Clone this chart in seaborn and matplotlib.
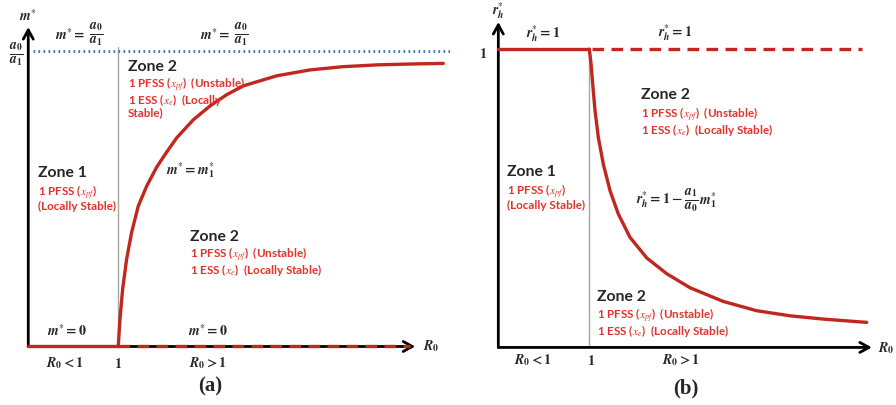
import matplotlib
matplotlib.use("Agg")
import matplotlib.pyplot as plt
import seaborn as sns

# =========================
# DATA
# =========================

# panel (a): m* in units of a0/a1 against R0, branch for R0 > 1
r0_a = [1.0, 1.019, 1.049, 1.093, 1.149, 1.222, 1.316, 1.427, 1.538, 1.649,
        1.833, 2.019, 2.204, 2.389, 2.760, 3.130, 3.500, 3.871, 4.241, 4.611]
m_a = [0.0, 0.093, 0.195, 0.296, 0.387, 0.475, 0.543, 0.607, 0.658, 0.706,
       0.767, 0.814, 0.852, 0.882, 0.916, 0.936, 0.947, 0.953, 0.956, 0.958]

# panel (b): r_h* against R0, branch for R0 > 1
r0_b = [1.0, 1.019, 1.037, 1.063, 1.099, 1.154, 1.228, 1.319, 1.447, 1.631,
        1.851, 2.107, 2.473, 2.840, 3.205, 3.571, 4.048]
rh_b = [1.0, 0.950, 0.883, 0.793, 0.704, 0.614, 0.525, 0.447, 0.369, 0.300,
        0.247, 0.200, 0.154, 0.123, 0.106, 0.095, 0.084]

# trivial branches
r0_low = [0.0, 1.0]
r0_high_a = [1.0, 4.24]
r0_high_b = [1.03, 4.0]

CURVE = "#c0271e"
TXT_RED = "#e5322d"
BLUE = "#2e75b6"
GREY = "#a6a6a6"

sns.set_theme(style="white")
plt.rcParams["mathtext.fontset"] = "stix"
plt.rcParams["font.family"] = ["Lato", "DejaVu Sans"]

W, H = 896, 406
fig = plt.figure(figsize=(W / 100, H / 100), dpi=100)

ax_a = fig.add_axes([0, 0, 450 / W, 1])
ax_b = fig.add_axes([450 / W, 0, 446 / W, 1])

ax_a.set_xlim(-0.314, 4.686)
ax_a.set_ylim(-0.198, 1.176)
ax_b.set_xlim(-0.531, 4.370)
ax_b.set_ylim(-0.193, 1.168)

for ax in (ax_a, ax_b):
    ax.axis("off")


def put(x, y, s, **kw):
    # place text by pixel position in the figure
    kw.setdefault("va", "center")
    fig.text(x / W, 1 - y / H, s, **kw)


def frac(x, y, num, den):
    # fraction drawn bigger so numerator/denominator are full size
    put(x, y, r"$\frac{%s}{%s}$" % (num, den), ha="center", fontsize=14)


def arrows(ax, xend, yend):
    arw = dict(arrowstyle="->,head_length=0.55,head_width=0.3", lw=2.0,
               color="black", shrinkA=0, shrinkB=0)
    ax.annotate("", xy=(xend, 0), xytext=(0, 0), arrowprops=arw, zorder=2)
    ax.annotate("", xy=(0, yend), xytext=(0, 0), arrowprops=arw, zorder=2)


ZS = 11.3   # "Zone" titles
RS = 8.4    # red notes
MS = 10     # math labels
LS = 0.85   # line spacing of red notes

A0 = r"\mathbfit{a}_{\mathbf{0}}"
A1 = r"\mathbfit{a}_{\mathbf{1}}"

# =========================
# PANEL (a)
# =========================

arrows(ax_a, 4.30, 1.081)
ax_a.plot([1, 1], [0, 1.012], color=GREY, lw=1.0, zorder=1)
ax_a.plot([0.052, 4.686], [1, 1], color=BLUE, lw=2.0, linestyle=(0, (0.6, 1.2)),
          zorder=1)

sns.lineplot(x=r0_low, y=[0, 0], ax=ax_a, color=CURVE, lw=2.4, sort=False, zorder=3)
sns.lineplot(x=r0_high_a, y=[0, 0], ax=ax_a, color=CURVE, lw=2.4, sort=False,
             linestyle=(0, (3.5, 2.2)), zorder=3)
sns.lineplot(x=r0_a, y=m_a, ax=ax_a, color=CURVE, lw=2.4, sort=False, zorder=3)

put(28, 15, r"$\mathbfit{m}^{*}$", ha="center", fontsize=MS)
frac(16, 54, A0, A1)
put(85, 34, r"$\mathbfit{m}^{*}\mathbf{=}$", ha="right", fontsize=MS)
frac(96, 34, A0, A1)
put(230, 34, r"$\mathbfit{m}^{*}\mathbf{=}$", ha="right", fontsize=MS)
frac(241, 34, A0, A1)

put(128, 67, "Zone 2", fontsize=ZS, fontweight="bold")
put(128, 76, "1 PFSS ($x_{pf}$)  (Unstable)\n1 ESS ($x_{e}$)  (Locally\nStable)",
    va="top", fontsize=RS, fontweight="bold", color=TXT_RED, linespacing=LS)

put(38, 173, "Zone 1", fontsize=ZS, fontweight="bold")
put(38, 184, "1 PFSS ($x_{pf}$)\n(Locally Stable)",
    va="top", fontsize=RS, fontweight="bold", color=TXT_RED, linespacing=LS)

put(166, 170, r"$\mathbfit{m}^{*}\mathbf{=}\mathbfit{m}_{\mathbf{1}}^{*}$", fontsize=MS)

put(190, 237, "Zone 2", fontsize=ZS, fontweight="bold")
put(190, 246, "1 PFSS ($x_{pf}$)  (Unstable)\n1 ESS ($x_{e}$)  (Locally Stable)",
    va="top", fontsize=RS, fontweight="bold", color=TXT_RED, linespacing=LS)

put(67, 330, r"$\mathbfit{m}^{*}\mathbf{=0}$", ha="center", fontsize=MS)
put(208, 330, r"$\mathbfit{m}^{*}\mathbf{=0}$", ha="center", fontsize=MS)
put(65, 363, r"$\mathbfit{R}_{\mathbf{0}}\mathbf{<1}$", ha="center", fontsize=MS)
put(118, 363, r"$\mathbf{1}$", ha="center", fontsize=MS)
put(208, 363, r"$\mathbfit{R}_{\mathbf{0}}\mathbf{>1}$", ha="center", fontsize=MS)
put(431, 346, r"$\mathbfit{R}_{\mathbf{0}}$", ha="center", fontsize=MS)
put(210, 386, "(a)", ha="center", fontsize=15, fontweight="bold",
    family="Liberation Serif")

# =========================
# PANEL (b)
# =========================

arrows(ax_b, 4.105, 1.091)
ax_b.plot([1, 1], [0, 1.0], color=GREY, lw=1.0, zorder=1)

sns.lineplot(x=r0_low, y=[1, 1], ax=ax_b, color=CURVE, lw=2.4, sort=False, zorder=3)
sns.lineplot(x=r0_high_b, y=[1, 1], ax=ax_b, color=CURVE, lw=2.4, sort=False,
             linestyle=(0, (3.5, 2.2)), zorder=3)
sns.lineplot(x=r0_b, y=rh_b, ax=ax_b, color=CURVE, lw=2.4, sort=False, zorder=3)

put(498, 11, r"$\mathbfit{r}_{\mathbfit{h}}^{*}$", ha="center", fontsize=MS)
put(483, 53, r"$\mathbf{1}$", ha="center", fontsize=MS)
put(543, 34, r"$\mathbfit{r}_{\mathbfit{h}}^{*}\mathbf{=1}$", ha="center", fontsize=MS)
put(675, 33, r"$\mathbfit{r}_{\mathbfit{h}}^{*}\mathbf{=1}$", ha="center", fontsize=MS)

put(641, 95, "Zone 2", fontsize=ZS, fontweight="bold")
put(641, 106, "1 PFSS ($x_{pf}$)  (Unstable)\n1 ESS ($x_{e}$)  (Locally Stable)",
    va="top", fontsize=RS, fontweight="bold", color=TXT_RED, linespacing=LS)

put(507, 172, "Zone 1", fontsize=ZS, fontweight="bold")
put(507, 183, "1 PFSS ($x_{pf}$)\n(Locally Stable)",
    va="top", fontsize=RS, fontweight="bold", color=TXT_RED, linespacing=LS)

put(683, 200, r"$\mathbfit{r}_{\mathbfit{h}}^{*}\mathbf{=1-}$", ha="right", fontsize=MS)
frac(691, 200, A1, A0)
put(699, 200, r"$\mathbfit{m}_{\mathbf{1}}^{*}$", fontsize=MS)

put(597, 297, "Zone 2", fontsize=ZS, fontweight="bold")
put(597, 307, "1 PFSS ($x_{pf}$)  (Unstable)\n1 ESS ($x_{e}$)  (Locally Stable)",
    va="top", fontsize=RS, fontweight="bold", color=TXT_RED, linespacing=LS)

put(533, 360, r"$\mathbfit{R}_{\mathbf{0}}\mathbf{<1}$", ha="center", fontsize=MS)
put(591, 360, r"$\mathbf{1}$", ha="center", fontsize=MS)
put(681, 360, r"$\mathbfit{R}_{\mathbf{0}}\mathbf{>1}$", ha="center", fontsize=MS)
put(886, 348, r"$\mathbfit{R}_{\mathbf{0}}$", ha="center", fontsize=MS)
put(686, 388, "(b)", ha="center", fontsize=15, fontweight="bold",
    family="Liberation Serif")

plt.savefig("out.png", dpi=100)
plt.close()
